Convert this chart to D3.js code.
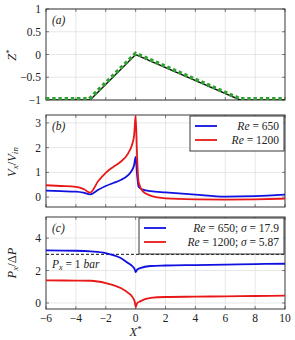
<!DOCTYPE html>
<html>
<head>
<meta charset="utf-8">
<script src="https://cdn.jsdelivr.net/npm/d3@7"></script>
<style>
  body { margin: 0; background: #fff; }
</style>
</head>
<body>
<script>
// values
const xTicks = [-6, -4, -2, 0, 2, 4, 6, 8, 10]
const zTicks = [-1, -0.5, 0, 0.5, 1]
const vTicks = [0, 1, 2, 3]
const pTicks = [0, 2, 4]

const profile = [[-6, -1], [-3.05, -1], [0, 0], [7, -1], [10, -1]]
const profileGreen = [[-6, -0.975], [-3.1, -0.975], [0, 0.025], [7, -0.975], [10, -0.975]]

const vel650 = [[-6,0.26],[-5,0.24],[-4,0.22],[-3.5,0.18],[-3.05,0.11],[-2.5,0.3],[-2,0.45],[-1.5,0.57],[-1,0.69],[-0.5,0.89],[-0.25,1.08],[-0.1,1.3],[0,1.63],[0.1,0.9],[0.2,0.42],[0.5,0.3],[1,0.24],[2,0.19],[4,0.1],[6,0.02],[8,0.04],[10,0.1]]
const vel1200 = [[-6,0.48],[-5,0.45],[-4,0.41],[-3.5,0.33],[-3.05,0.18],[-2.5,0.65],[-2,0.98],[-1.5,1.22],[-1,1.43],[-0.5,1.77],[-0.25,2.1],[-0.1,2.5],[0,3.3],[0.1,1.6],[0.2,0.6],[0.5,0.22],[1,0.06],[2,-0.05],[4,-0.09],[6,-0.1],[8,-0.09],[10,-0.06]]

const pre650 = [[-6,3.24],[-4,3.22],[-3,3.18],[-2,3.08],[-1.5,2.95],[-1,2.77],[-0.5,2.46],[-0.2,2.25],[-0.05,2.05],[0,1.91],[0.1,2.05],[0.3,2.15],[1,2.28],[2,2.31],[4,2.34],[6,2.37],[8,2.4],[10,2.42]]
const pre1200 = [[-6,1.39],[-4,1.38],[-3,1.37],[-2,1.23],[-1.5,1.1],[-1,0.92],[-0.5,0.62],[-0.2,0.35],[-0.05,0.05],[0,-0.25],[0.1,-0.02],[0.3,0.1],[1,0.31],[2,0.37],[4,0.39],[6,0.41],[8,0.43],[10,0.45]]
const pRef = 3

const blue = '#1010e0', red = '#e81818', green = '#30a030'

const W = 295, H = 340
const left = 46, right = 285
const FONT = '"Liberation Serif", "DejaVu Serif", serif'

const svg = d3.select('body').append('svg').attr('width', W).attr('height', H)
  .style('font-family', FONT)

const x = d3.scaleLinear().domain([-6, 10]).range([left, right])

const panels = [
  { id: 'a', top: 9, bottom: 100, domain: [-1, 1], ticks: zTicks },
  { id: 'b', top: 115, bottom: 207, domain: [-0.4, 3.32], ticks: vTicks },
  { id: 'c', top: 217, bottom: 309, domain: [-0.37, 5.3], ticks: pTicks }
]

const fmt = d => (d < 0 ? '\u2212' + Math.abs(d) : '' + d)

panels.forEach((p, i) => {
  p.y = d3.scaleLinear().domain(p.domain).range([p.bottom, p.top])
  const g = svg.append('g')
  p.g = g
  g.append('clipPath').attr('id', 'clip' + p.id)
    .append('rect').attr('x', left).attr('y', p.top).attr('width', right - left).attr('height', p.bottom - p.top)

  // grid
  g.selectAll('.gx').data(xTicks.slice(1, -1)).enter().append('line')
    .attr('x1', d => x(d)).attr('x2', d => x(d)).attr('y1', p.top).attr('y2', p.bottom)
    .attr('stroke', '#d6d6d6').attr('stroke-width', 0.6)
  g.selectAll('.gy').data(p.ticks).enter().append('line')
    .attr('x1', left).attr('x2', right).attr('y1', d => p.y(d)).attr('y2', d => p.y(d))
    .attr('stroke', '#d6d6d6').attr('stroke-width', 0.6)

  // inward ticks, all sides
  const tl = 3
  xTicks.forEach(d => {
    g.append('line').attr('x1', x(d)).attr('x2', x(d)).attr('y1', p.bottom).attr('y2', p.bottom - tl).attr('stroke', '#333').attr('stroke-width', 0.6)
    g.append('line').attr('x1', x(d)).attr('x2', x(d)).attr('y1', p.top).attr('y2', p.top + tl).attr('stroke', '#333').attr('stroke-width', 0.6)
  })
  p.ticks.forEach(d => {
    g.append('line').attr('x1', left).attr('x2', left + tl).attr('y1', p.y(d)).attr('y2', p.y(d)).attr('stroke', '#333').attr('stroke-width', 0.6)
    g.append('line').attr('x1', right).attr('x2', right - tl).attr('y1', p.y(d)).attr('y2', p.y(d)).attr('stroke', '#333').attr('stroke-width', 0.6)
  })

  // y tick labels
  g.selectAll('.yl').data(p.ticks).enter().append('text')
    .attr('x', left - 5).attr('y', d => p.y(d)).attr('dy', '0.35em')
    .attr('text-anchor', 'end').attr('font-size', 11.5).attr('fill', '#222')
    .text(fmt)

  // frame
  g.append('rect').attr('x', left).attr('y', p.top).attr('width', right - left).attr('height', p.bottom - p.top)
    .attr('fill', 'none').attr('stroke', '#222').attr('stroke-width', 0.9)

  g.append('text').attr('x', left + 6).attr('y', p.top + 15)
    .attr('font-size', 11.5).attr('font-style', 'italic').attr('fill', '#222').text('(' + p.id + ')')
})

const lineOf = (p, curve) => d3.line().x(d => x(d[0])).y(d => p.y(d[1])).curve(curve || d3.curveLinear)

// (a) channel profile
const pa = panels[0]
pa.g.append('path').datum(profile).attr('d', lineOf(pa))
  .attr('fill', 'none').attr('stroke', '#111').attr('stroke-width', 1.4).attr('clip-path', 'url(#clipa)')
pa.g.append('path').datum(profileGreen).attr('d', lineOf(pa))
  .attr('fill', 'none').attr('stroke', green).attr('stroke-width', 3.6)
  .attr('stroke-dasharray', '3.4,2.8').attr('clip-path', 'url(#clipa)')

// (b) velocity
const pb = panels[1]
;[[vel650, blue], [vel1200, red]].forEach(([d, c]) => {
  pb.g.append('path').datum(d).attr('d', lineOf(pb, d3.curveMonotoneX))
    .attr('fill', 'none').attr('stroke', c).attr('stroke-width', 1.8).attr('clip-path', 'url(#clipb)')
})

// (c) pressure
const pc = panels[2]
pc.g.append('line').attr('x1', left).attr('x2', right).attr('y1', pc.y(pRef)).attr('y2', pc.y(pRef))
  .attr('stroke', '#111').attr('stroke-width', 1).attr('stroke-dasharray', '3,2')
;[[pre650, blue], [pre1200, red]].forEach(([d, c]) => {
  pc.g.append('path').datum(d).attr('d', lineOf(pc, d3.curveMonotoneX))
    .attr('fill', 'none').attr('stroke', c).attr('stroke-width', 1.8).attr('clip-path', 'url(#clipc)')
})
const pt = pc.g.append('text').attr('x', 52).attr('y', 268).attr('font-size', 11.5).attr('fill', '#222')
pt.append('tspan').attr('font-style', 'italic').text('P')
pt.append('tspan').attr('font-style', 'italic').attr('font-size', 8).attr('dy', 2).text('x')
pt.append('tspan').attr('dy', -2).text(' = 1 ')
pt.append('tspan').attr('font-style', 'italic').text('bar')

// legends
function legend(p, x0, y0, w, h, items) {
  const g = p.g.append('g')
  g.append('rect').attr('x', x0).attr('y', y0).attr('width', w).attr('height', h)
    .attr('fill', '#fff').attr('stroke', '#222').attr('stroke-width', 0.9)
  items.forEach((it, i) => {
    const yy = y0 + 10 + i * 14
    g.append('line').attr('x1', x0 + 5).attr('x2', x0 + 27).attr('y1', yy).attr('y2', yy)
      .attr('stroke', it.color).attr('stroke-width', 1.8)
    const t = g.append('text').attr('x', x0 + w - 5).attr('y', yy).attr('dy', '0.35em')
      .attr('text-anchor', 'end').attr('font-size', 11.5).attr('fill', '#222')
    it.parts.forEach(([s, ital]) => t.append('tspan').attr('font-style', ital ? 'italic' : 'normal').text(s))
  })
}
legend(pb, 190, 116, 94, 35, [
  { color: blue, parts: [['Re', 1], [' = 650', 0]] },
  { color: red, parts: [['Re', 1], [' = 1200', 0]] }
])
legend(pc, 139, 218, 145, 36, [
  { color: blue, parts: [['Re', 1], [' = 650; ', 0], ['\u03c3', 1], [' = 17.9', 0]] },
  { color: red, parts: [['Re', 1], [' = 1200; ', 0], ['\u03c3', 1], [' = 5.87', 0]] }
])

// x tick labels
svg.selectAll('.xl').data(xTicks).enter().append('text')
  .attr('x', d => x(d)).attr('y', pc.bottom + 13).attr('text-anchor', 'middle')
  .attr('font-size', 11.5).attr('fill', '#222').text(fmt)

const xl = svg.append('text').attr('x', x(0)).attr('y', 336).attr('text-anchor', 'middle').attr('font-size', 12.5).attr('fill', '#222')
xl.append('tspan').attr('font-style', 'italic').text('X')
xl.append('tspan').attr('font-size', 9).attr('dy', -4).text('*')

// y axis titles: parts are [text, italic, dy, small]
function ytitle(cx, cy, parts) {
  const t = svg.append('text').attr('transform', `translate(${cx},${cy}) rotate(-90)`)
    .attr('text-anchor', 'middle').attr('font-size', 12.5).attr('fill', '#222')
  parts.forEach(([s, ital, dy, small]) => {
    const ts = t.append('tspan').attr('font-style', ital ? 'italic' : 'normal')
      .attr('font-size', small ? 9 : 12.5).text(s)
    if (dy) ts.attr('dy', dy)
  })
}
ytitle(16, 55, [['Z', 1, 0, 0], ['*', 0, -4, 1]])
ytitle(16, 162, [['V', 1, 0, 0], ['x', 1, 2, 1], ['/', 0, -2, 0], ['V', 1, 0, 0], ['in', 1, 2, 1]])
ytitle(16, 263, [['P', 1, 0, 0], ['x', 1, 2, 1], ['/\u0394', 0, -2, 0], ['P', 1, 0, 0]])
</script>
</body>
</html>
